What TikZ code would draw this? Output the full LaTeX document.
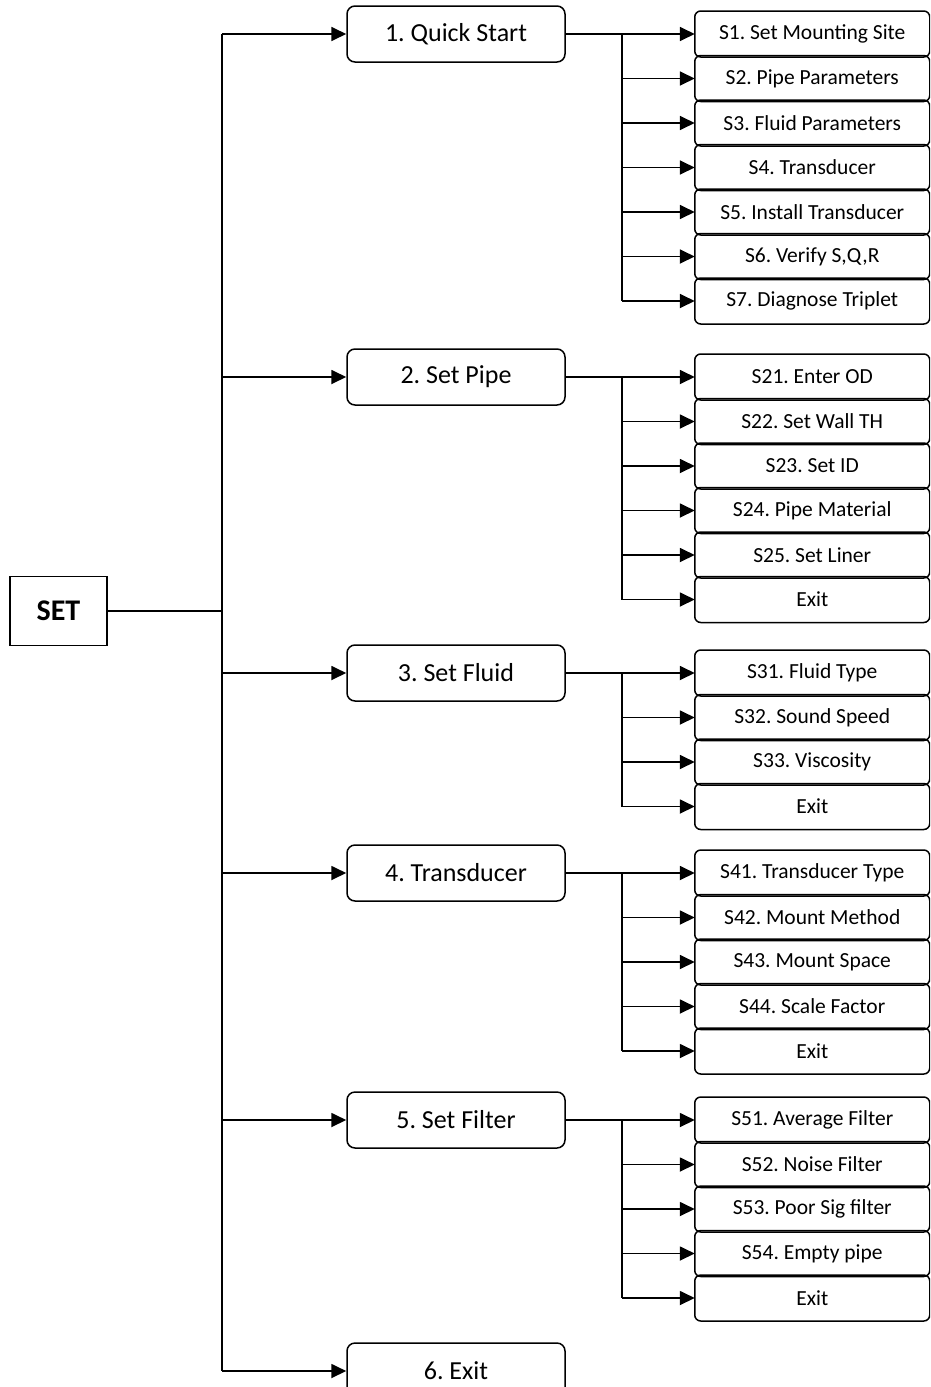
\documentclass[tikz,border=0pt]{standalone}
\usepackage{fontspec}
\setmainfont{Carlito}
\frenchspacing
\usetikzlibrary{arrows.meta,positioning}

\begin{document}
\begin{tikzpicture}[x=1pt,y=1pt,>={Triangle[length=15pt,width=14pt]},line width=1.8pt,node distance=-1.5pt,
		setbox/.style={draw,line width=1.5pt,minimum width=97pt,minimum height=69pt,font=\fontsize{30}{34}\selectfont\bfseries},
		mainbox/.style={draw,rounded corners=8pt,line width=1.5pt,minimum width=218pt,minimum height=56pt,font=\fontsize{26}{30}\selectfont},
		subbox/.style={draw,rounded corners=6pt,line width=1.5pt,outer sep=0pt,minimum width=235pt,minimum height=46pt,font=\fontsize{21.5}{25}\selectfont}]
		\path[use as bounding box,clip] (0,0) rectangle (930,-1387);

		\node[setbox]  (SET) at (58.5,-611) {SET};
		\node[mainbox] (m1) at (456,-34)   {1. Quick Start};
		\node[mainbox] (m2) at (456,-377)  {2. Set Pipe};
		\node[mainbox] (m3) at (456,-673)  {3. Set Fluid};
		\node[mainbox] (m4) at (456,-873)  {4. Transducer};
		\node[mainbox] (m5) at (456,-1120) {5. Set Filter};
		\node[mainbox] (m6) at (456,-1371) {6. Exit};
		\coordinate (trunk) at (222,0);
		\coordinate (branch) at (622,0);

		% quick start
		\node[subbox] (s1) [right=129pt of m1] {S1. Set Mounting Site};
		\node[subbox] (s2) [below=of s1] {S2. Pipe Parameters};
		\node[subbox] (s3) [below=of s2] {S3. Fluid Parameters};
		\node[subbox] (s4) [below=of s3] {S4. Transducer};
		\node[subbox] (s5) [below=of s4] {S5. Install Transducer};
		\node[subbox] (s6) [below=of s5] {S6. Verify S,Q,R};
		\node[subbox] (s7) [below=of s6] {S7. Diagnose Triplet};

		% pipe
		\node[subbox] (s21) [right=129pt of m2] {S21. Enter OD};
		\node[subbox] (s22) [below=of s21] {S22. Set Wall TH};
		\node[subbox] (s23) [below=of s22] {S23. Set ID};
		\node[subbox] (s24) [below=of s23] {S24. Pipe Material};
		\node[subbox] (s25) [below=of s24] {S25. Set Liner};
		\node[subbox] (s26) [below=of s25] {Exit};

		% fluid
		\node[subbox] (s31) [right=129pt of m3] {S31. Fluid Type};
		\node[subbox] (s32) [below=of s31] {S32. Sound Speed};
		\node[subbox] (s33) [below=of s32] {S33. Viscosity};
		\node[subbox] (s34) [below=of s33] {Exit};

		% transducer
		\node[subbox] (s41) [right=129pt of m4] {S41. Transducer Type};
		\node[subbox] (s42) [below=of s41] {S42. Mount Method};
		\node[subbox] (s43) [below=of s42] {S43. Mount Space};
		\node[subbox] (s44) [below=of s43] {S44. Scale Factor};
		\node[subbox] (s45) [below=of s44] {Exit};

		% filter
		\node[subbox] (s51) [right=129pt of m5] {S51. Average Filter};
		\node[subbox] (s52) [below=of s51] {S52. Noise Filter};
		\node[subbox] (s53) [below=of s52] {S53. Poor Sig filter};
		\node[subbox] (s54) [below=of s53] {S54. Empty pipe};
		\node[subbox] (s55) [below=of s54] {Exit};

		\draw (SET.east) -- (SET.east -| trunk);
		\draw (m1.west -| trunk) -- (m6.west -| trunk);
		\path[->] (m1.west -| trunk) edge (m1.west)
				  (m2.west -| trunk) edge (m2.west)
				  (m3.west -| trunk) edge (m3.west)
				  (m4.west -| trunk) edge (m4.west)
				  (m5.west -| trunk) edge (m5.west)
				  (m6.west -| trunk) edge (m6.west);

		\draw (s1.west -| branch) -- (s7.west -| branch);
		\path[->] (m1.east) edge (s1.west)
				  (s2.west -| branch) edge (s2.west)
				  (s3.west -| branch) edge (s3.west)
				  (s4.west -| branch) edge (s4.west)
				  (s5.west -| branch) edge (s5.west)
				  (s6.west -| branch) edge (s6.west)
				  (s7.west -| branch) edge (s7.west);

		\draw (s21.west -| branch) -- (s26.west -| branch);
		\path[->] (m2.east) edge (s21.west)
				  (s22.west -| branch) edge (s22.west)
				  (s23.west -| branch) edge (s23.west)
				  (s24.west -| branch) edge (s24.west)
				  (s25.west -| branch) edge (s25.west)
				  (s26.west -| branch) edge (s26.west);

		\draw (s31.west -| branch) -- (s34.west -| branch);
		\path[->] (m3.east) edge (s31.west)
				  (s32.west -| branch) edge (s32.west)
				  (s33.west -| branch) edge (s33.west)
				  (s34.west -| branch) edge (s34.west);

		\draw (s41.west -| branch) -- (s45.west -| branch);
		\path[->] (m4.east) edge (s41.west)
				  (s42.west -| branch) edge (s42.west)
				  (s43.west -| branch) edge (s43.west)
				  (s44.west -| branch) edge (s44.west)
				  (s45.west -| branch) edge (s45.west);

		\draw (s51.west -| branch) -- (s55.west -| branch);
		\path[->] (m5.east) edge (s51.west)
				  (s52.west -| branch) edge (s52.west)
				  (s53.west -| branch) edge (s53.west)
				  (s54.west -| branch) edge (s54.west)
				  (s55.west -| branch) edge (s55.west);
	\end{tikzpicture}
\end{document}
